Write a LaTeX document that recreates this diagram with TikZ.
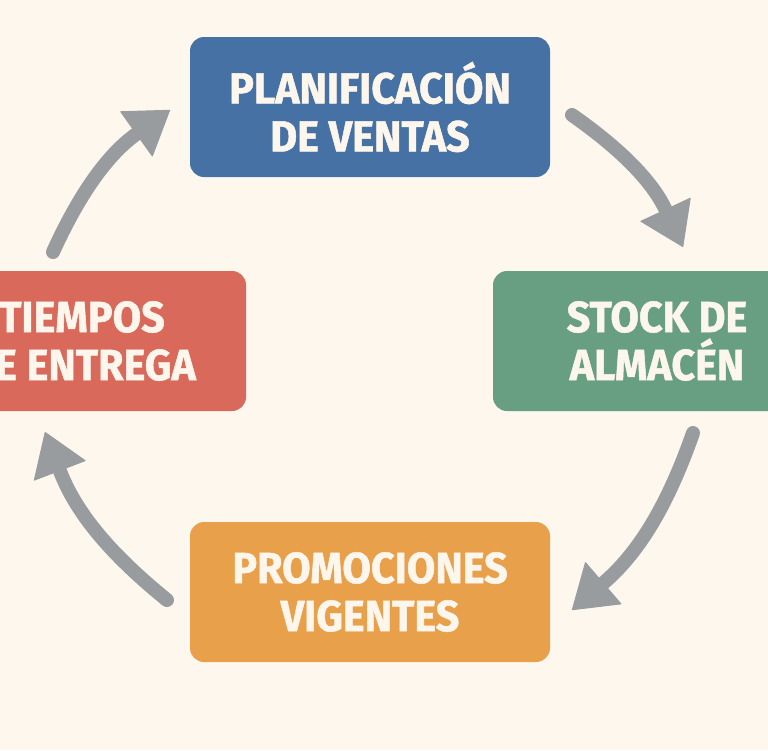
\documentclass[tikz,border=0pt]{standalone}
\usepackage{fontspec}
\usetikzlibrary{arrows.meta}
\newfontfamily\boxfont[FakeStretch=0.95, FakeBold=1.2]{Fira Sans Bold}
\definecolor{fondo}{HTML}{FDF7EE}
\definecolor{texto}{HTML}{FDF6EC}
\definecolor{azul}{HTML}{4671A5}
\definecolor{verde}{HTML}{689F83}
\definecolor{rojo}{HTML}{D9695A}
\definecolor{naranja}{HTML}{E9A04A}
\definecolor{gris}{HTML}{989C9F}
\begin{document}
\begin{tikzpicture}[x=1pt, y=-1pt,
    caja/.style={rounded corners=14pt, inner sep=0pt, text=texto, align=center,
                 minimum height=140pt,
                 font=\boxfont\fontsize{43.5}{48}\selectfont},
    flecha/.style={draw=gris, line width=14pt, line cap=round,
                   -{Triangle[length=42pt, width=56pt, line width=1pt, round]}}]
    % Fondo
    \fill[fondo] (0,0) rectangle (768,750);
    \clip (0,0) rectangle (768,750);

    % Cajas del ciclo
    \node[caja, fill=azul, minimum width=360pt] (plan) at (370,107)
         {PLANIFICACIÓN\\DE VENTAS};
    \node[caja, fill=verde, minimum width=328pt] (stock) at (657,341)
         {STOCK DE\\ALMACÉN};
    \node[caja, fill=naranja, minimum width=360pt] (promo) at (370,592)
         {PROMOCIONES\\VIGENTES};
    \node[caja, fill=rojo, minimum width=328pt] (tiempos) at (82,341)
         {TIEMPOS\\DE ENTREGA};

    % Flechas (sentido horario)
    \coordinate (s1) at (572,115);  \coordinate (e1) at (683,247);
    \coordinate (s2) at (693,433);  \coordinate (e2) at (572,610);
    \coordinate (s3) at (167,600);  \coordinate (e3) at (45,432);
    \coordinate (s4) at (53,252);   \coordinate (e4) at (170,110);
    \foreach \a/\b in {s1/e1, s2/e2, s3/e3, s4/e4} {
      \draw[flecha] (\a) to[bend left=15] (\b);
    }
\end{tikzpicture}
\end{document}
